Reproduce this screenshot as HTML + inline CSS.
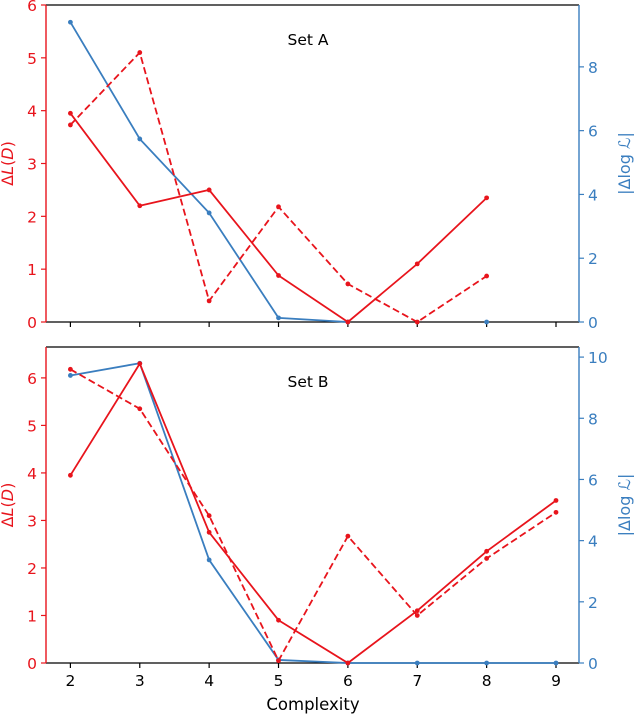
<!DOCTYPE html>
<html><head><meta charset="utf-8"><style>
body{margin:0;background:#fff;}
svg{display:block;font-family:"DejaVu Sans","Liberation Sans",sans-serif;}
</style></head><body>
<svg id="chart" width="640" height="716" xmlns="http://www.w3.org/2000/svg"></svg>
<script>
const categories=[2,3,4,5,6,7,8,9];
const aRedSolid=[3.95,2.2,2.5,0.88,0,1.1,2.35,null];
const aRedDashed=[3.73,5.1,0.4,2.18,0.72,0,0.87,null];
const aBlue=[9.4,5.74,3.42,0.13,0,null,0,null];
const bRedSolid=[3.95,6.3,2.75,0.9,0,1.1,2.35,3.42];
const bRedDashed=[6.18,5.35,3.1,0.05,2.67,1.0,2.2,3.17];
const bBlue=[9.4,9.8,3.37,0.1,0,0,0,0];
const aLeftTicks=[0,1,2,3,4,5,6];
const aRightTicks=[0,2,4,6,8];
const bLeftTicks=[0,1,2,3,4,5,6];
const bRightTicks=[0,2,4,6,8,10];

const RED="#e8141c",BLUE="#3a7ebf";
const svg=document.getElementById('chart');
const NS="http://www.w3.org/2000/svg";
function el(tag,attrs,parent){const e=document.createElementNS(NS,tag);for(const k in attrs)e.setAttribute(k,attrs[k]);(parent||svg).appendChild(e);return e;}
const X0=46,X1=579;
const xs=v=>70.4+(v-2)*(556-70.4)/7;

function panel(key,top,bottom,lmax,rmax,lt,rt,rs,rd,bl,title,showX){
  const g=el('g',{});
  
  
  const yl=v=>bottom-v*(bottom-top)/lmax;
  const yr=v=>bottom-v*(bottom-top)/rmax;
  el('line',{x1:X0,y1:top,x2:X1,y2:top,stroke:'#000','stroke-width':1.2},g);
  el('line',{x1:X0,y1:bottom,x2:X1,y2:bottom,stroke:'#000','stroke-width':1.2},g);
  el('line',{x1:X0,y1:top,x2:X0,y2:bottom,stroke:RED,'stroke-width':1.4},g);
  el('line',{x1:X1,y1:top,x2:X1,y2:bottom,stroke:BLUE,'stroke-width':1.4},g);
  categories.forEach(c=>{
    el('line',{x1:xs(c),y1:bottom,x2:xs(c),y2:bottom+5,stroke:'#000','stroke-width':1.2},g);
    if(showX){const t=el('text',{x:xs(c),y:bottom+23,'text-anchor':'middle','font-size':15.5},g);t.textContent=c;
      }
  });
  lt.forEach(v=>{
    el('line',{x1:X0-5,y1:yl(v),x2:X0,y2:yl(v),stroke:RED,'stroke-width':1.2},g);
    const t=el('text',{x:X0-9,y:yl(v)+6,'text-anchor':'end','font-size':15.5,fill:RED},g);t.textContent=v;
    
  });
  rt.forEach(v=>{
    el('line',{x1:X1,y1:yr(v),x2:X1+5,y2:yr(v),stroke:BLUE,'stroke-width':1.2},g);
    const t=el('text',{x:X1+9,y:yr(v)+6,'text-anchor':'start','font-size':15.5,fill:BLUE},g);t.textContent=v;
    
  });
  const mid=(top+bottom)/2;
  const ll=el('text',{transform:`translate(13,${mid}) rotate(-90)`,'text-anchor':'middle','font-size':16,fill:RED},g);
  ll.innerHTML='Δ<tspan font-style="italic">L</tspan>(<tspan font-style="italic">D</tspan>)';
  
  const rl=el('text',{transform:`translate(630,${mid}) rotate(-90)`,'text-anchor':'middle','font-size':16,fill:BLUE},g);
  rl.textContent='|Δlog ℒ|';
  const tt=el('text',{x:308,y:top+40,'text-anchor':'middle','font-size':15.5},g);
  tt.textContent=title;
  function series(vals,ys,color,dash,name){
    let segs=[],cur=[];
    vals.forEach((v,i)=>{if(v===null){if(cur.length)segs.push(cur);cur=[];}else cur.push([xs(categories[i]),ys(v)]);});
    if(cur.length)segs.push(cur);
    segs.forEach(s=>{
      const p=el('polyline',{points:s.map(q=>q.join(',')).join(' '),fill:'none',stroke:color,'stroke-width':1.8,'stroke-dasharray':dash||'none'},g);
      
      s.forEach(q=>el('circle',{cx:q[0],cy:q[1],r:2.4,fill:color},g));
    });
  }
  series(bl,yr,BLUE,null,'series-blue-'+key);
  series(rs,yl,RED,null,'series-red-solid-'+key);
  series(rd,yl,RED,'7,3.5','series-red-dashed-'+key);
}
panel('a',5,322,6,9.94,aLeftTicks,aRightTicks,aRedSolid,aRedDashed,aBlue,'Set A',false);
panel('b',347,663,6.65,10.33,bLeftTicks,bRightTicks,bRedSolid,bRedDashed,bBlue,'Set B',true);
const xt=el('text',{x:313,y:710,'text-anchor':'middle','font-size':16.5});
xt.textContent='Complexity';


</script>
</body></html>
